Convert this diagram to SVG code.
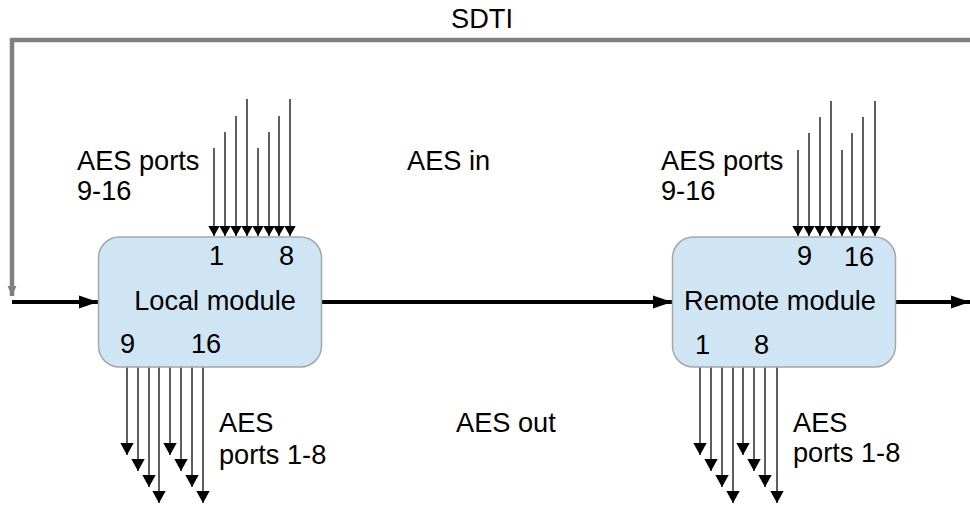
<svg xmlns="http://www.w3.org/2000/svg" width="970" height="506" viewBox="0 0 970 506">
  <defs>
    <style>
      text { font-family: "Liberation Sans", Arial, sans-serif; font-size: 27.2px; fill: #000; }
      .mid { text-anchor: middle; }
      .box { fill: #cfe5f3; stroke: #a0a8ae; stroke-width: 1.5; }
      .thin { stroke: #1a1a1a; stroke-width: 1.4; fill: none; }
      .thick { stroke: #000; stroke-width: 4; fill: none; }
      .sdti { stroke: #808080; stroke-width: 4.5; fill: none; }
    </style>
    <marker id="inHead" markerUnits="userSpaceOnUse" markerWidth="12" markerHeight="12" viewBox="0 0 12 12" refX="10" refY="6" orient="auto">
      <path d="M0,0.3 L10,6 L0,11.7 Z" fill="#000"/>
    </marker>
    <marker id="outHead" markerUnits="userSpaceOnUse" markerWidth="14" markerHeight="14" viewBox="0 0 14 14" refX="12" refY="7" orient="auto">
      <path d="M0,0.3 L12,7 L0,13.7 Z" fill="#000"/>
    </marker>
    <marker id="bigHead" markerUnits="userSpaceOnUse" markerWidth="20" markerHeight="16" viewBox="0 0 20 16" refX="19" refY="8" orient="auto">
      <path d="M0,1.5 L19,8 L0,14.5 Z" fill="#000"/>
    </marker>
    <marker id="grayHead" markerUnits="userSpaceOnUse" markerWidth="12" markerHeight="12" viewBox="0 0 12 12" refX="10" refY="6" orient="auto">
      <path d="M0,1.5 L10,6 L0,10.5 Z" fill="#808080"/>
    </marker>
  </defs>

  <!-- connectors -->
  <g id="connectors">
    <!-- SDTI loop-back -->
    <path class="sdti" d="M970,40 H12 V296" marker-end="url(#grayHead)"/>
    <!-- main signal path -->
    <line class="thick" x1="12" y1="302" x2="98" y2="302" marker-end="url(#bigHead)"/>
    <line class="thick" x1="322" y1="302" x2="672" y2="302" marker-end="url(#bigHead)"/>
    <line class="thick" x1="896" y1="302" x2="970" y2="302" marker-end="url(#bigHead)"/>

    <!-- AES inputs, local module -->
    <g class="thin" marker-end="url(#inHead)">
      <line x1="214" y1="148" x2="214" y2="236"/>
      <line x1="225" y1="132" x2="225" y2="236"/>
      <line x1="236" y1="116" x2="236" y2="236"/>
      <line x1="247" y1="99" x2="247" y2="236"/>
      <line x1="258" y1="148" x2="258" y2="236"/>
      <line x1="269" y1="132" x2="269" y2="236"/>
      <line x1="279" y1="116" x2="279" y2="236"/>
      <line x1="290" y1="99" x2="290" y2="236"/>
    </g>
    <!-- AES inputs, remote module -->
    <g class="thin" marker-end="url(#inHead)">
      <line x1="798" y1="150" x2="798" y2="236"/>
      <line x1="809" y1="133" x2="809" y2="236"/>
      <line x1="820" y1="117" x2="820" y2="236"/>
      <line x1="831" y1="101" x2="831" y2="236"/>
      <line x1="842" y1="150" x2="842" y2="236"/>
      <line x1="852" y1="133" x2="852" y2="236"/>
      <line x1="863" y1="117" x2="863" y2="236"/>
      <line x1="875" y1="101" x2="875" y2="236"/>
    </g>

    <!-- AES outputs, local module -->
    <g class="thin" marker-end="url(#outHead)">
      <line x1="127" y1="367" x2="127" y2="455"/>
      <line x1="138" y1="367" x2="138" y2="471"/>
      <line x1="149" y1="367" x2="149" y2="487"/>
      <line x1="159" y1="367" x2="159" y2="503"/>
      <line x1="170" y1="367" x2="170" y2="455"/>
      <line x1="181" y1="367" x2="181" y2="471"/>
      <line x1="192" y1="367" x2="192" y2="487"/>
      <line x1="203" y1="367" x2="203" y2="503"/>
    </g>
    <!-- AES outputs, remote module -->
    <g class="thin" marker-end="url(#outHead)">
      <line x1="700" y1="367" x2="700" y2="455"/>
      <line x1="711" y1="367" x2="711" y2="471"/>
      <line x1="722" y1="367" x2="722" y2="487"/>
      <line x1="733" y1="367" x2="733" y2="503"/>
      <line x1="743" y1="367" x2="743" y2="455"/>
      <line x1="754" y1="367" x2="754" y2="471"/>
      <line x1="765" y1="367" x2="765" y2="487"/>
      <line x1="777" y1="367" x2="777" y2="503"/>
    </g>
  </g>

  <!-- modules -->
  <g id="local-module">
    <rect class="box" x="98.5" y="237" width="223" height="130" rx="21" ry="21"/>
    <text class="mid" x="215" y="310">Local module</text>
    <text x="209" y="265">1</text>
    <text x="279" y="265">8</text>
    <text x="120" y="353">9</text>
    <text x="191" y="353">16</text>
  </g>

  <g id="remote-module">
    <rect class="box" x="672.5" y="237" width="223" height="130" rx="21" ry="21"/>
    <text class="mid" x="780" y="310">Remote module</text>
    <text x="797" y="265">9</text>
    <text x="844" y="266">16</text>
    <text x="695" y="354">1</text>
    <text x="754" y="354">8</text>
  </g>

  <!-- labels -->
  <g id="labels">
    <text class="mid" x="482" y="28">SDTI</text>
    <text x="77" y="170">AES ports</text>
    <text x="77" y="200">9-16</text>
    <text x="661" y="170">AES ports</text>
    <text x="661" y="200">9-16</text>
    <text x="407" y="170">AES in</text>
    <text x="456" y="432">AES out</text>
    <text x="219" y="432">AES</text>
    <text x="219" y="464">ports 1-8</text>
    <text x="793" y="432">AES</text>
    <text x="793" y="462">ports 1-8</text>
  </g>
</svg>
